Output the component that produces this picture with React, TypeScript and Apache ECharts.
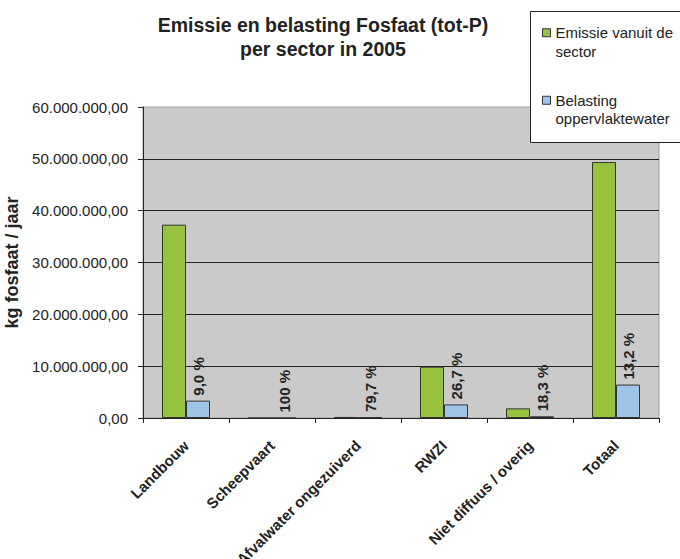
import React, { useEffect, useRef } from "react";
import * as echarts from "echarts";

const categories = [
  "Landbouw",
  "Scheepvaart",
  "Afvalwater ongezuiverd",
  "RWZI",
  "Niet diffuus / overig",
  "Totaal",
];
const emissie = [37300000, 0, 200000, 9900000, 1860000, 49400000];
const belasting = [3350000, 0, 160000, 2620000, 340000, 6450000];
const percentLabels = ["9,0 %", "100 %", "79,7 %", "26,7 %", "18,3 %", "13,2 %"];
const seriesNames = ["Emissie vanuit de sector", "Belasting oppervlaktewater"];
const legendLabels = ["\nEmissie vanuit de\nsector", "\nBelasting\noppervlaktewater"];
const yMin = 0;
const yMax = 60000000;
const yInterval = 10000000;
const titleText = "Emissie en belasting Fosfaat (tot-P)\nper sector in 2005";
const yName = "kg fosfaat / jaar";

const FONT = '"Liberation Sans", Arial, sans-serif';
const TEXT = "#222222";

function nl(v: number): string {
  const s = Math.round(v)
    .toString()
    .replace(/\B(?=(\d{3})+(?!\d))/g, ".");
  return s + ",00";
}

export default function App() {
  const ref = useRef<HTMLDivElement>(null);

  useEffect(() => {
    if (!ref.current) return;
    const chart = echarts.init(ref.current, undefined, { renderer: "svg" });
    chart.setOption({
      animation: false,
      backgroundColor: "#ffffff",
      title: {
        text: titleText,
        left: 323,
        top: 13,
        padding: 0,
        textAlign: "center",
        textStyle: {
          fontFamily: FONT,
          fontSize: 19.5,
          fontWeight: "bold",
          color: TEXT,
          lineHeight: 24,
        },
      },
      graphic: [
        {
          type: "rect",
          z: 3,
          shape: { x: 530.5, y: 11.5, width: 170, height: 131 },
          style: { fill: "#ffffff", stroke: "#222222", lineWidth: 1 },
        },
      ],
      legend: {
        orient: "vertical",
        left: 542,
        top: 5,
        padding: 0,
        itemGap: 12,
        itemWidth: 8,
        itemHeight: 8,
        icon: "rect",
        z: 5,
        data: seriesNames,
        formatter: (n: string) => legendLabels[seriesNames.indexOf(n)],
        textStyle: {
          fontFamily: FONT,
          fontSize: 15,
          color: TEXT,
          lineHeight: 18.5,
        },
        itemStyle: { borderColor: "#333333", borderWidth: 1 },
      },
      grid: {
        left: 143,
        right: 21,
        top: 107,
        bottom: 141,
        outerBoundsMode: "none",
        containLabel: false,
        show: true,
        backgroundColor: "#CACACA",
        borderColor: "#A0A0A0",
        borderWidth: 1,
      },
      xAxis: {
        type: "category",
        data: categories,
        axisLine: { show: true, lineStyle: { color: "#222222", width: 1 } },
        axisTick: { show: true, length: 5, lineStyle: { color: "#222222" } },
        axisLabel: {
          interval: 0,
          rotate: 45,
          margin: 25,
          fontFamily: FONT,
          fontSize: 15,
          fontWeight: "bold",
          color: TEXT,
        },
      },
      yAxis: {
        type: "value",
        min: yMin,
        max: yMax,
        interval: yInterval,
        name: yName,
        nameLocation: "middle",
        nameGap: 118,
        nameTextStyle: {
          fontFamily: FONT,
          fontSize: 18,
          fontWeight: "bold",
          color: TEXT,
        },
        axisLine: { show: true, lineStyle: { color: "#222222", width: 1 } },
        axisTick: { show: true, length: 5, lineStyle: { color: "#222222" } },
        axisLabel: {
          formatter: (v: number) => nl(v),
          margin: 15,
          fontFamily: FONT,
          fontSize: 15,
          color: TEXT,
        },
        splitLine: {
          show: true,
          showMaxLine: false,
          lineStyle: { color: "#222222", width: 1 },
        },
      },
      series: [
        {
          name: seriesNames[0],
          type: "bar",
          data: emissie,
          barWidth: 24,
          barGap: "0%",
          itemStyle: { color: "#97C23D", borderColor: "#333333", borderWidth: 1 },
        },
        {
          name: seriesNames[1],
          type: "bar",
          data: belasting,
          barWidth: 24,
          barGap: "0%",
          itemStyle: { color: "#9EC4E8", borderColor: "#333333", borderWidth: 1 },
          label: {
            show: true,
            position: "top",
            rotate: 90,
            align: "left",
            verticalAlign: "middle",
            distance: 5,
            formatter: (p: any) => percentLabels[p.dataIndex],
            fontFamily: FONT,
            fontSize: 15,
            fontWeight: "bold",
            color: TEXT,
          },
        },
      ],
    });
    return () => chart.dispose();
  }, []);

  return (
    <div
      ref={ref}
      style={{ position: "fixed", left: 0, top: 0, width: 680, height: 559 }}
    />
  );
}
